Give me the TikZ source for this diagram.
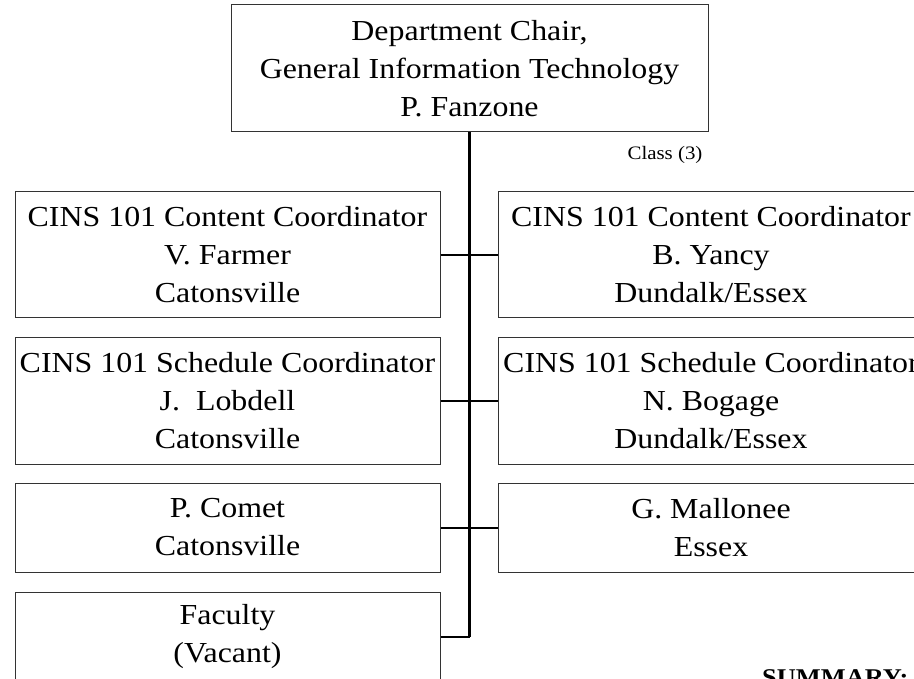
\documentclass[tikz,border=0pt]{standalone}
\usepackage{fontspec}
\setmainfont{Liberation Serif}[FakeStretch=1.1]
\begin{document}
\begin{tikzpicture}[x=1pt,y=-1pt,
  orgbox/.style={draw=black!80, line width=1pt, rectangle, inner sep=0pt, align=center,
    font=\fontsize{29}{38}\selectfont, minimum width=425pt},
  tall/.style={minimum height=126pt},
  short/.style={minimum height=89pt},
  trunk/.style={line width=3pt},
  branch/.style={line width=2pt}]
\useasboundingbox (0,0) rectangle (914,679);
\node[orgbox, minimum width=477pt, minimum height=127pt] (chair) at (469.5,68.5)
  {Department Chair,\\General Information Technology\\P. Fanzone};
\node[orgbox, tall] (l1) at (227.5,255) {CINS 101 Content Coordinator\\V. Farmer\\Catonsville};
\node[orgbox, tall] (l2) at (227.5,401) {CINS 101 Schedule Coordinator\\J.~~Lobdell\\Catonsville};
\node[orgbox, short] (l3) at (227.5,527.5) {P. Comet\\Catonsville};
\node[orgbox, short] (l4) at (227.5,636.5) {Faculty\\(Vacant)};
\node[orgbox, tall, minimum width=426pt] (r1) at (711,255) {CINS 101 Content Coordinator\\B. Yancy\\Dundalk/Essex};
\node[orgbox, tall, minimum width=426pt] (r2) at (711,401) {CINS 101 Schedule Coordinator\\N. Bogage\\Dundalk/Essex};
\node[orgbox, short, minimum width=426pt] (r3) at (711,527.5) {G. Mallonee\\Essex};
\node[font=\fontsize{19}{22}\selectfont, inner sep=0pt] (cls) at (665,155) {Class (3)};
\node[font=\fontsize{24}{28}\selectfont\bfseries, inner sep=0pt, anchor=base west] (sum) at (762,685) {SUMMARY:};
\draw[trunk] (chair.south) -- (chair.south |- l4.east);
\draw[branch] (l1.east) -- (r1.west);
\draw[branch] (l2.east) -- (r2.west);
\draw[branch] (l3.east) -- (r3.west);
\draw[branch] (l4.east) -- (l4.east -| chair.south);
\end{tikzpicture}
\end{document}
